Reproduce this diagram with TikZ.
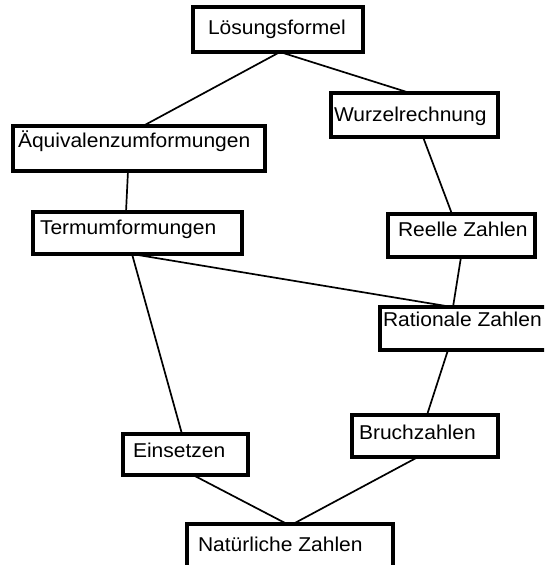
\documentclass[tikz,border=0pt]{standalone}
\usepackage{fontspec}
\setmainfont{Liberation Sans}[FakeStretch=1.05]
\begin{document}
\begin{tikzpicture}[x=1pt,y=-1pt,
  box/.style={rectangle, anchor=north west, inner sep=0pt, outer sep=0pt},
  boxline/.style={line width=3.4pt, fill=white},
  lbl/.style={anchor=base west, inner sep=0pt, outer sep=0pt,
    font=\fontsize{20}{24}\selectfont},
  conn/.style={line width=1.7pt}]
\useasboundingbox (0,0) rectangle (544,565);
\clip (0,0) rectangle (544,565);
% box placements
\path
  (193,7)   node[box, minimum width=170pt, minimum height=45pt] (L) {}
  (13,126)  node[box, minimum width=252pt, minimum height=45pt] (A) {}
  (33,212)  node[box, minimum width=209pt, minimum height=42pt] (T) {}
  (331,93)  node[box, minimum width=167pt, minimum height=44pt] (W) {}
  (388,214) node[box, minimum width=147pt, minimum height=43pt] (R) {}
  (380,307) node[box, minimum width=170pt, minimum height=43pt] (Ra) {}
  (352,415) node[box, minimum width=146pt, minimum height=42pt] (B) {}
  (123,434) node[box, minimum width=125pt, minimum height=41pt] (E) {}
  (187,524) node[box, minimum width=206pt, minimum height=46pt] (N) {};
% connectors
\draw[conn] ([xshift=87pt]L.south west) -- ([xshift=130pt]A.north west);
\draw[conn] ([xshift=87pt]L.south west) -- ([xshift=79pt]W.north west);
\draw[conn] ([xshift=115pt]A.south west) -- ([xshift=93pt]T.north west);
\draw[conn] ([xshift=92pt]W.south west) -- ([xshift=64pt]R.north west);
\draw[conn] ([xshift=99pt]T.south west) -- ([xshift=72pt]Ra.north west);
\draw[conn] ([xshift=73pt]R.south west) -- ([xshift=73pt]Ra.north west);
\draw[conn] ([xshift=99pt]T.south west) -- ([xshift=59pt]E.north west);
\draw[conn] ([xshift=68pt]Ra.south west) -- ([xshift=75pt]B.north west);
\draw[conn] ([xshift=70pt]E.south west) -- ([xshift=100pt]N.north west);
\draw[conn] ([xshift=66pt]B.south west) -- ([xshift=106pt]N.north west);
% visible boxes
\foreach \n in {L,A,T,W,R,Ra,B,E,N}{
  \draw[boxline] (\n.north west) rectangle (\n.south east);
}
% texts
\node[lbl] (tL)  at (208,34)  {Lösungsformel};
\node[lbl] (tA)  at (18,147)  {Äquivalenzumformungen};
\node[lbl] (tT)  at (40,234)  {Termumformungen};
\node[lbl] (tW)  at (334,121) {Wurzelrechnung};
\node[lbl] (tR)  at (398,236) {Reelle Zahlen};
\node[lbl] (tRa) at (383,326) {Rationale Zahlen};
\node[lbl] (tB)  at (359,439) {Bruchzahlen};
\node[lbl] (tE)  at (133,457) {Einsetzen};
\node[lbl] (tN)  at (198,551) {Natürliche Zahlen};
\end{tikzpicture}
\end{document}
